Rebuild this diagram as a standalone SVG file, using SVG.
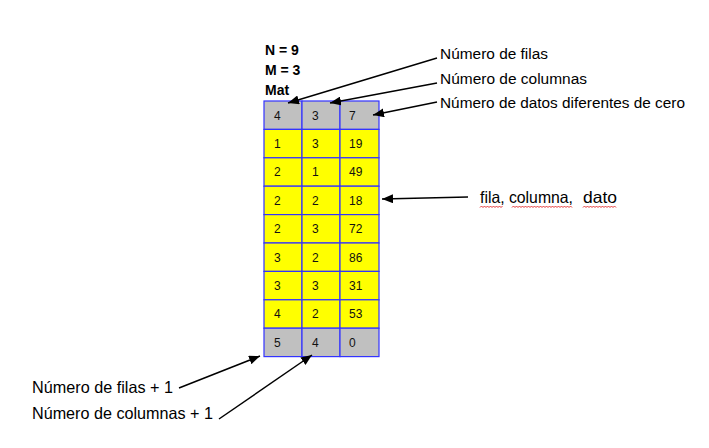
<svg xmlns="http://www.w3.org/2000/svg" width="709" height="448" viewBox="0 0 709 448">
<style>
.cg{fill:#c0c0c0;stroke:#3333ff;stroke-width:1.2}
.cy{fill:#ffff00;stroke:#3333ff;stroke-width:1.2}
.ct{font-family:"Liberation Sans",Arial,sans-serif;font-size:12px;fill:#111}
.hd{font-family:"Liberation Sans",Arial,sans-serif;font-size:14px;font-weight:bold;fill:#000}
.lb{font-family:"Liberation Sans",Arial,sans-serif;font-size:15.3px;fill:#000}
.lb2{font-family:"Liberation Sans",Arial,sans-serif;font-size:16.5px;fill:#000}
.ln{stroke:#000;stroke-width:1.5;fill:none}
.sq{stroke:#e02020;stroke-width:0.9;fill:none}
</style>
<defs>
<marker id="ahb" viewBox="0 0 10 10" refX="10" refY="5" markerWidth="11" markerHeight="9" markerUnits="userSpaceOnUse" orient="auto" preserveAspectRatio="none">
<path d="M0,0 L10,5 L0,10 z" fill="#000"/>
</marker>
</defs>
<rect width="709" height="448" fill="#fff"/>

<g id="header">
<text class="hd" x="265" y="55">N = 9</text>
<text class="hd" x="265" y="75">M = 3</text>
<text class="hd" x="265" y="95">Mat</text>
</g>

<g id="table">
<g id="row0">
<rect class="cg" x="264" y="101" width="38" height="28.4"/><rect class="cg" x="302" y="101" width="38" height="28.4"/><rect class="cg" x="340" y="101" width="39" height="28.4"/>
<text class="ct" x="274" y="119.5">4</text><text class="ct" x="312" y="119.5">3</text><text class="ct" x="349" y="119.5">7</text>
</g>
<g id="row1">
<rect class="cy" x="264" y="129.4" width="38" height="28.4"/><rect class="cy" x="302" y="129.4" width="38" height="28.4"/><rect class="cy" x="340" y="129.4" width="39" height="28.4"/>
<text class="ct" x="274" y="147.9">1</text><text class="ct" x="312" y="147.9">3</text><text class="ct" x="349" y="147.9">19</text>
</g>
<g id="row2">
<rect class="cy" x="264" y="157.8" width="38" height="28.4"/><rect class="cy" x="302" y="157.8" width="38" height="28.4"/><rect class="cy" x="340" y="157.8" width="39" height="28.4"/>
<text class="ct" x="274" y="176.3">2</text><text class="ct" x="312" y="176.3">1</text><text class="ct" x="349" y="176.3">49</text>
</g>
<g id="row3">
<rect class="cy" x="264" y="186.2" width="38" height="28.4"/><rect class="cy" x="302" y="186.2" width="38" height="28.4"/><rect class="cy" x="340" y="186.2" width="39" height="28.4"/>
<text class="ct" x="274" y="204.7">2</text><text class="ct" x="312" y="204.7">2</text><text class="ct" x="349" y="204.7">18</text>
</g>
<g id="row4">
<rect class="cy" x="264" y="214.6" width="38" height="28.4"/><rect class="cy" x="302" y="214.6" width="38" height="28.4"/><rect class="cy" x="340" y="214.6" width="39" height="28.4"/>
<text class="ct" x="274" y="233.1">2</text><text class="ct" x="312" y="233.1">3</text><text class="ct" x="349" y="233.1">72</text>
</g>
<g id="row5">
<rect class="cy" x="264" y="243" width="38" height="28.4"/><rect class="cy" x="302" y="243" width="38" height="28.4"/><rect class="cy" x="340" y="243" width="39" height="28.4"/>
<text class="ct" x="274" y="261.5">3</text><text class="ct" x="312" y="261.5">2</text><text class="ct" x="349" y="261.5">86</text>
</g>
<g id="row6">
<rect class="cy" x="264" y="271.4" width="38" height="28.4"/><rect class="cy" x="302" y="271.4" width="38" height="28.4"/><rect class="cy" x="340" y="271.4" width="39" height="28.4"/>
<text class="ct" x="274" y="289.9">3</text><text class="ct" x="312" y="289.9">3</text><text class="ct" x="349" y="289.9">31</text>
</g>
<g id="row7">
<rect class="cy" x="264" y="299.8" width="38" height="28.4"/><rect class="cy" x="302" y="299.8" width="38" height="28.4"/><rect class="cy" x="340" y="299.8" width="39" height="28.4"/>
<text class="ct" x="274" y="318.3">4</text><text class="ct" x="312" y="318.3">2</text><text class="ct" x="349" y="318.3">53</text>
</g>
<g id="row8">
<rect class="cg" x="264" y="328.2" width="38" height="28.4"/><rect class="cg" x="302" y="328.2" width="38" height="28.4"/><rect class="cg" x="340" y="328.2" width="39" height="28.4"/>
<text class="ct" x="274" y="346.7">5</text><text class="ct" x="312" y="346.7">4</text><text class="ct" x="349" y="346.7">0</text>
</g>
</g>

<g id="labels">
<text id="lbl-filas" class="lb" x="440" y="59" textLength="108" lengthAdjust="spacingAndGlyphs">Número de filas</text>
<text id="lbl-columnas" class="lb" x="440" y="84" textLength="147" lengthAdjust="spacingAndGlyphs">Número de columnas</text>
<text id="lbl-datos" class="lb" x="440" y="108" textLength="245" lengthAdjust="spacingAndGlyphs">Número de datos diferentes de cero</text>
<g id="lbl-tripleta">
<text class="lb2" x="480" y="203" textLength="93" lengthAdjust="spacingAndGlyphs">fila, columna,</text>
<text class="lb2" x="583" y="203" textLength="34" lengthAdjust="spacingAndGlyphs">dato</text>
<path class="sq" d="M480,207.5 l1.5,-1.5 l1.5,1.5 l1.5,-1.5 l1.5,1.5 l1.5,-1.5 l1.5,1.5 l1.5,-1.5 l1.5,1.5 l1.5,-1.5 l1.5,1.5 l1.5,-1.5 l1.5,1.5 l1.5,-1.5 l1.5,1.5 l1.5,-1.5"/>
<path class="sq" d="M512,207.5 l1.5,-1.5 l1.5,1.5 l1.5,-1.5 l1.5,1.5 l1.5,-1.5 l1.5,1.5 l1.5,-1.5 l1.5,1.5 l1.5,-1.5 l1.5,1.5 l1.5,-1.5 l1.5,1.5 l1.5,-1.5 l1.5,1.5 l1.5,-1.5 l1.5,1.5 l1.5,-1.5 l1.5,1.5 l1.5,-1.5 l1.5,1.5 l1.5,-1.5 l1.5,1.5 l1.5,-1.5 l1.5,1.5 l1.5,-1.5 l1.5,1.5 l1.5,-1.5 l1.5,1.5 l1.5,-1.5 l1.5,1.5 l1.5,-1.5 l1.5,1.5 l1.5,-1.5 l1.5,1.5 l1.5,-1.5 l1.5,1.5 l1.5,-1.5 l1.5,1.5 l1.5,-1.5 l1.5,1.5"/>
<path class="sq" d="M583,207.5 l1.5,-1.5 l1.5,1.5 l1.5,-1.5 l1.5,1.5 l1.5,-1.5 l1.5,1.5 l1.5,-1.5 l1.5,1.5 l1.5,-1.5 l1.5,1.5 l1.5,-1.5 l1.5,1.5 l1.5,-1.5 l1.5,1.5 l1.5,-1.5 l1.5,1.5 l1.5,-1.5 l1.5,1.5 l1.5,-1.5 l1.5,1.5 l1.5,-1.5 l1.5,1.5"/>
</g>
<text id="lbl-filas1" class="lb2" x="32" y="393" textLength="141" lengthAdjust="spacingAndGlyphs">Número de filas + 1</text>
<text id="lbl-columnas1" class="lb2" x="32" y="419" textLength="181" lengthAdjust="spacingAndGlyphs">Número de columnas + 1</text>
</g>

<g id="connectors">
<line class="ln" x1="437" y1="58" x2="288" y2="103" marker-end="url(#ahb)"/>
<line class="ln" x1="437" y1="83" x2="330" y2="103" marker-end="url(#ahb)"/>
<line class="ln" x1="437" y1="102" x2="373" y2="115" marker-end="url(#ahb)"/>
<line class="ln" x1="468" y1="197" x2="382" y2="199" marker-end="url(#ahb)"/>
<line class="ln" x1="179" y1="388" x2="260" y2="356" marker-end="url(#ahb)"/>
<line class="ln" x1="219" y1="419" x2="312" y2="355" marker-end="url(#ahb)"/>
</g>
</svg>
